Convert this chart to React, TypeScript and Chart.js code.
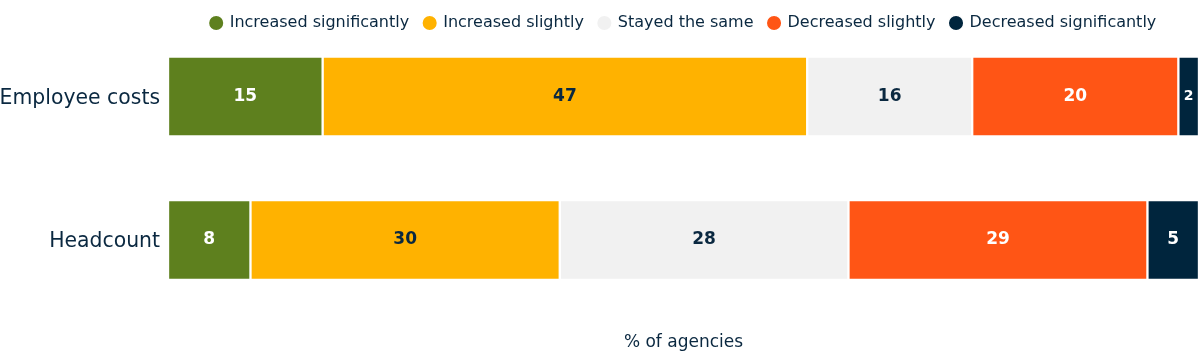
import React, { useEffect, useRef } from "react";
import { Chart, registerables } from "chart.js";

Chart.register(...registerables);

const categories = ["Employee costs", "Headcount"];
const seriesNames = [
  "Increased significantly",
  "Increased slightly",
  "Stayed the same",
  "Decreased slightly",
  "Decreased significantly",
];
const increasedSignificantly = [15, 8];
const increasedSlightly = [47, 30];
const stayedTheSame = [16, 28];
const decreasedSlightly = [20, 29];
const decreasedSignificantly = [2, 5];

const seriesValues = [
  increasedSignificantly,
  increasedSlightly,
  stayedTheSame,
  decreasedSlightly,
  decreasedSignificantly,
];
const seriesColors = ["#5E801E", "#FFB200", "#F1F1F1", "#FF5515", "#00253D"];
const labelColors = ["#FFFFFF", "#0A2840", "#0A2840", "#FFFFFF", "#FFFFFF"];
const axisTitle = "% of agencies";

const TEXT = "#0A2840";
const FONT = "DejaVu Sans";

Chart.defaults.font.family = FONT;

// Leaves room under the legend so the first bar row sits lower.
const legendSpacing = {
  id: "legendSpacing",
  beforeUpdate(chart: any) {
    const legend = chart.legend;
    if (legend && !legend._spaced) {
      const fit = legend.fit.bind(legend);
      legend.fit = function () {
        fit();
        this.height = 96.5;
      };
      legend._spaced = true;
    }
  },
};

// Writes each segment's value in its centre.
const segmentLabels = {
  id: "segmentLabels",
  afterDatasetsDraw(chart: any) {
    const ctx = chart.ctx;
    ctx.save();
    ctx.textAlign = "center";
    ctx.textBaseline = "middle";
    chart.data.datasets.forEach((ds: any, i: number) => {
      const meta = chart.getDatasetMeta(i);
      meta.data.forEach((bar: any, j: number) => {
        const { x, y, base } = bar.getProps(["x", "y", "base"], true);
        const w = Math.abs(x - base);
        const size = w < 30 ? 14 : 17;
        ctx.font = `bold ${size}px "${FONT}"`;
        ctx.fillStyle = labelColors[i];
        ctx.fillText(String(ds.data[j]), (x + base) / 2, y);
      });
    });
    ctx.restore();
  },
};

export default function App() {
  const canvasRef = useRef<HTMLCanvasElement | null>(null);

  useEffect(() => {
    if (!canvasRef.current) return;
    const chart = new Chart(canvasRef.current, {
      type: "bar",
      data: {
        labels: categories,
        datasets: seriesNames.map((name, i) => ({
          label: name,
          data: seriesValues[i],
          backgroundColor: seriesColors[i],
          borderColor: "#FFFFFF",
          borderWidth: 1.5,
          borderSkipped: false,
          barThickness: 80,
          clip: false,
        })),
      },
      options: {
        indexAxis: "y",
        animation: false,
        responsive: true,
        maintainAspectRatio: false,
        layout: { padding: { left: 0, right: 0, top: 0, bottom: 0 } },
        plugins: {
          legend: {
            position: "top",
            fullSize: false,
            labels: {
              usePointStyle: true,
              pointStyle: "circle",
              boxWidth: 11,
              boxHeight: 11,
              padding: 15,
              color: TEXT,
              font: { family: FONT, size: 16 },
            },
          },
          tooltip: { enabled: false },
        },
        scales: {
          x: {
            stacked: true,
            min: 0,
            max: 100,
            grid: { display: false, drawTicks: false },
            border: { display: false },
            ticks: { display: false },
            title: {
              display: true,
              text: axisTitle,
              color: TEXT,
              font: { family: FONT, size: 17 },
              padding: { top: 92.6, bottom: 0 },
            },
          },
          y: {
            stacked: true,
            offset: false,
            grid: { display: false, drawTicks: false },
            border: { display: false },
            ticks: {
              color: TEXT,
              font: { family: FONT, size: 20.4 },
              padding: 8,
              labelOffset: 2,
            },
            afterFit(scale: any) {
              scale.width = 168;
            },
          },
        },
      },
      plugins: [legendSpacing, segmentLabels],
    });
    return () => chart.destroy();
  }, []);

  return (
    <div style={{ position: "absolute", left: 0, top: 0, width: 1199, height: 353 }}>
      <canvas ref={canvasRef} />
    </div>
  );
}
